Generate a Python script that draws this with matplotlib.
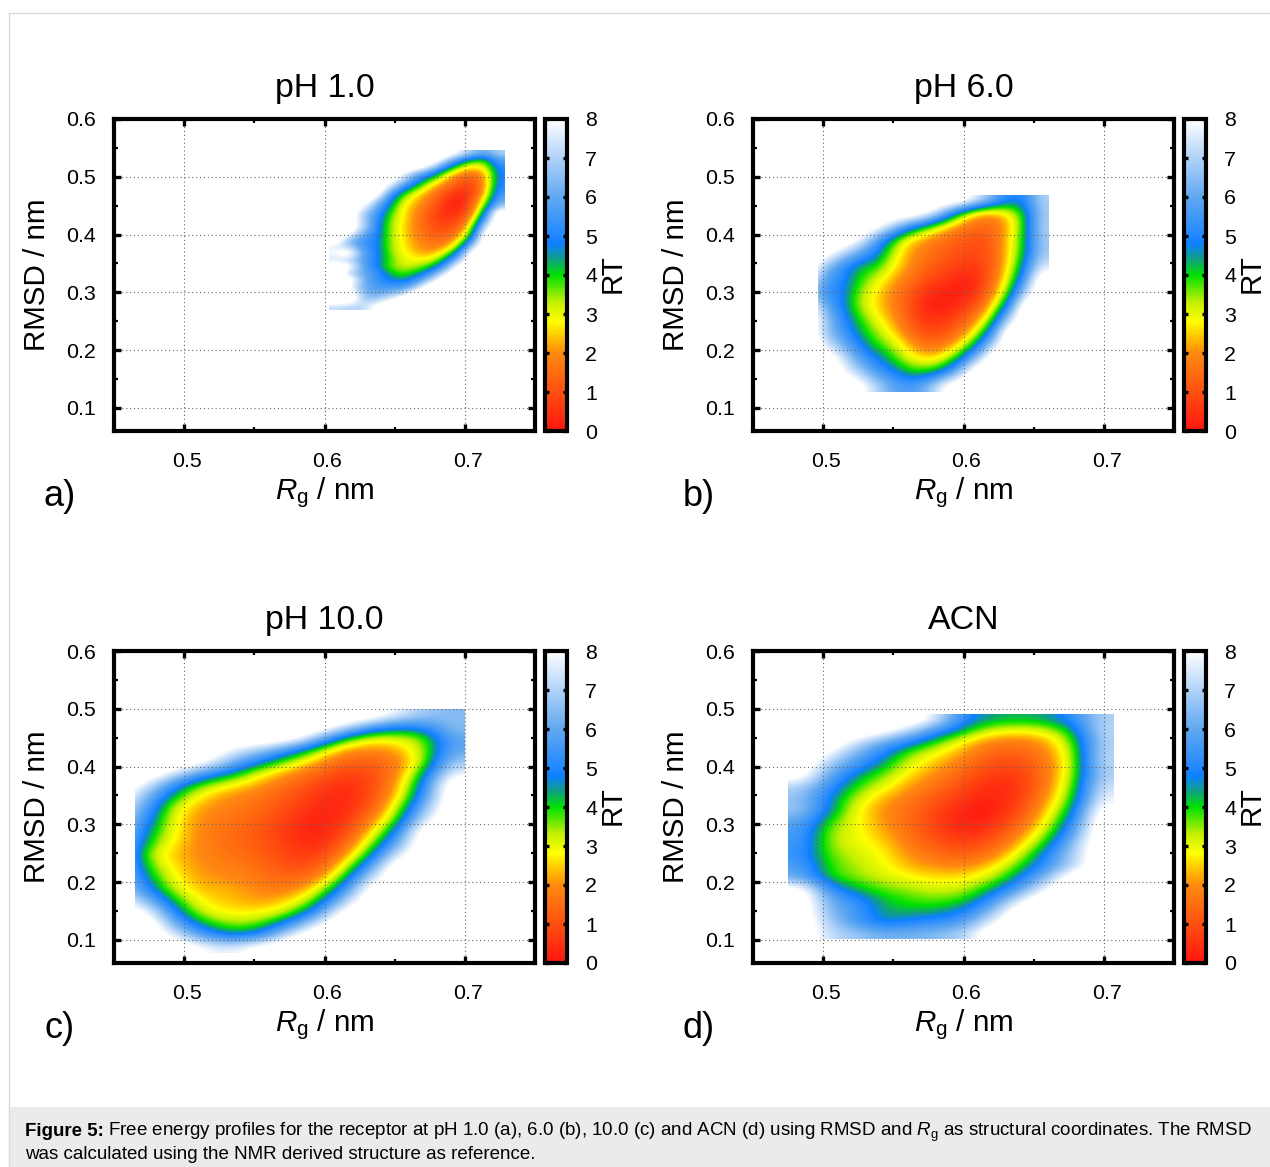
#!/usr/bin/env python3
"""Free energy profiles (RMSD vs Rg) for four solvent conditions."""
import numpy as np
import matplotlib
matplotlib.use('Agg')
import matplotlib.pyplot as plt
from matplotlib.colors import LinearSegmentedColormap, Normalize
from matplotlib.patches import Rectangle
from matplotlib.lines import Line2D
from matplotlib.transforms import ScaledTranslation

W = 9  # empty bins, drawn white

# rows run from top (high RMSD) to bottom
# panel a) pH 1.0
extent_a = (0.603, 0.7283, 0.27, 0.546)
grid_a = [
    [W, W, W, W, W, W, W, W, W, 8, 6.8, 6.0, 7],
    [W, W, W, W, W, W, W, W, 7.5, 5.5, 4.2, 3.8, 5.8],
    [W, W, W, W, W, W, W, 7.5, 5.5, 3.8, 2.6, 3, 5.2],
    [W, W, W, W, W, 8, 6.3, 5.3, 3.6, 2.2, 1.6, 2.2, 5],
    [W, W, W, W, 8.5, 7, 5.2, 3.8, 2.5, 1.3, 1.0, 2.0, 5],
    [W, W, W, W, 7.5, 5.5, 4.0, 2.6, 1.7, .9, .7, 2.0, 5.2],
    [W, W, W, W, 5.8, 4.0, 2.8, 2.0, 1, .4, .6, 2.3, 5.6],
    [W, W, W, 7.2, 5, 3.2, 2.4, 1.6, .7, .1, .9, 3, 6],
    [W, W, 8, 6.2, 4.4, 2.8, 2.1, 1.3, .5, .1, 1.1, 3.8, 7],
    [W, W, 7, 5.6, 3.9, 2.7, 1.9, 1.1, .4, .4, 1.5, 4.8, W],
    [W, W, 7, 5.3, 3.6, 2.7, 1.8, 1, .6, .8, 2.2, 6, W],
    [W, W, 7.2, 5.2, 3.5, 2.6, 1.8, 1.1, .8, 1.2, 3, 7.5, W],
    [W, 8.5, 6.2, 5.1, 3.5, 2.6, 1.9, 1.3, 1.1, 1.7, 3.8, 8.5, W],
    [W, 6.3, 5.5, 5, 3.5, 2.7, 2, 1.5, 1.5, 2.4, 5, W, W],
    [7.5, 7, 5.5, 5, 3.5, 2.7, 2.1, 1.8, 2, 3.4, 7, W, W],
    [8, W, 5.8, 5, 3.6, 2.9, 2.4, 2.2, 3, 5, 8.5, W, W],
    [7.3, 7, 5.8, 5, 3.8, 3, 2.8, 3, 4.2, 6.5, W, W, W],
    [W, 8.6, 6, 4.8, 3.6, 3.2, 3.4, 4, 5.6, 8.5, W, W, W],
    [W, 7, 6, 5.6, 4.2, 3.7, 4.2, 5.4, 7.5, W, W, W, W],
    [W, W, 6.4, 5.2, 4.8, 4.4, 5.4, 7, W, W, W, W, W],
    [W, 8, 6.2, 5.6, 5.5, 5.5, 6.8, W, W, W, W, W, W],
    [W, W, 6.4, 6, 6.4, 7, W, W, W, W, W, W, W],
    [W, W, 7, 6.8, 8, W, W, W, W, W, W, W, W],
    [7.2, 7, 7, 8.5, W, W, W, W, W, W, W, W, W],
]

# panel b) pH 6.0, first column lies just outside the sampled range
extent_b = (0.4847, 0.6607, 0.127, 0.469)
grid_b = [
    [W, W, W, W, W, W, W, W, W, W, 8, 6.5, 5, 5, 7],
    [W, W, W, W, W, W, W, 8.5, 6.5, 4.0, 2.2, 1.8, 2.6, 4, 6.8],
    [W, W, W, W, 8.5, 7, 5.2, 3.8, 2.7, 1.8, 1.4, 1.4, 2.2, 4, 7],
    [W, W, W, 8, 5.8, 4, 2.5, 2, 1.5, 1.2, 1.0, 1.1, 2.5, 4.1, 6.8],
    [W, 8.5, 7.2, 5.8, 5, 3.3, 2.2, 1.7, 1.3, 1.0, .9, 1.1, 2.5, 4.2, 6.8],
    [W, 6.5, 5.2, 4.2, 4, 2.9, 2, 1.4, 1, .7, .6, 1.1, 2.6, 4.8, 7.5],
    [8, 5.6, 5, 4, 3.1, 2.3, 1.6, 1, .6, .3, .2, 1.3, 3, 5.5, W],
    [7, 5.2, 5, 3.5, 2.7, 1.9, 1.2, .5, .2, .1, .4, 1.7, 3.6, 7, W],
    [8.5, 6, 4.8, 3.4, 2.6, 1.9, 1.1, .2, .1, .4, 1, 2.4, 5, W, W],
    [W, 6.8, 5.2, 4, 3, 2.2, 1.2, .5, .5, .9, 1.8, 3.5, 7, W, W],
    [W, 6.6, 5.5, 4.4, 3.5, 2.7, 1.6, .9, 1, 1.5, 2.8, 5.2, W, W, W],
    [W, 7.6, 6.3, 5, 4, 3.4, 2.4, 1.6, 1.7, 2.6, 4.4, 7, W, W, W],
    [W, W, 7.6, 5.8, 5, 4, 3.1, 2.6, 2.9, 4.3, 6.5, W, W, W, W],
    [W, W, 8, 7, 5.6, 5, 4.1, 4, 4.6, 6.5, W, W, W, W, W],
    [W, W, W, 8.5, 7.2, 6, 5.6, 6.2, 8, W, W, W, W, W, W],
]

# panel c) pH 10.0, first column lies just outside the sampled range
extent_c = (0.4456, 0.70, 0.078, 0.50)
grid_c = [
    [W, W, W, W, W, W, W, W, W, W, 7.8, 6.8, 6.4],
    [W, W, W, W, W, W, W, W, 8, 6, 5, 5.2, 6.6],
    [W, W, W, W, W, W, W, 7.2, 4.4, 3, 3, 3.5, 6],
    [W, W, W, W, 7.8, 7, 5.6, 3.8, 2.2, 1.9, 2.2, 3.3, 6],
    [W, W, W, 8.5, 6.5, 5, 3.6, 2.4, 1.4, 1.3, 1.6, 3.3, 6.8],
    [W, W, 7.6, 5.6, 4.6, 3, 2.2, 1.4, .8, .8, 1.7, 4.2, 7.8],
    [W, 7.5, 5, 3.6, 2.8, 2.2, 1.5, .9, .4, .7, 2.0, 5, W],
    [8.5, 6.2, 4, 2.5, 2.0, 1.7, 1.2, .6, .2, .8, 2.3, 5.5, W],
    [8, 5.5, 2.9, 2.1, 1.8, 1.5, .9, .4, .2, 1.0, 3, 6.5, W],
    [7.5, 5, 2.7, 1.9, 1.6, 1.3, .7, .2, .3, 1.6, 3.6, 7.5, W],
    [7, 4.4, 2.7, 1.8, 1.5, 1.1, .6, .1, .6, 2.2, 4.8, W, W],
    [7, 3.9, 2.6, 1.8, 1.5, 1.2, .7, .2, 1.0, 3, 6, W, W],
    [6.8, 3.2, 2.3, 1.9, 1.6, 1.3, .8, .5, 1.6, 4, 7.5, W, W],
    [6.8, 3.7, 2.5, 2.0, 1.8, 1.5, 1.0, .9, 2.5, 5.5, W, W, W],
    [7, 4.3, 2.7, 2.1, 2.0, 1.7, 1.3, 1.6, 3.5, 7.2, W, W, W],
    [7.2, 5.0, 3, 2.3, 2.3, 1.9, 1.7, 2.5, 5, 8.5, W, W, W],
    [8, 6.4, 3.9, 2.6, 2.4, 2.1, 2.4, 3.6, 6.5, W, W, W, W],
    [W, 8, 4.8, 3, 2.7, 2.7, 3.2, 5, 8.5, W, W, W, W],
    [W, W, 6, 4.2, 3.4, 3.6, 5, 7.5, W, W, W, W, W],
    [W, W, 7.5, 5.6, 4.6, 5, 7.5, W, W, W, W, W, W],
    [W, W, W, 8, 7.6, 8.6, W, W, W, W, W, W, W],
]

# panel d) ACN
extent_d = (0.475, 0.707, 0.102, 0.491)
grid_d = [
    [W, W, W, W, W, 7.5, 5, 4.4, 4.3, 4.4, 5.2, 7],
    [W, W, W, 8.5, 7, 5.3, 4.2, 3, 2.8, 3, 4.2, 7.2],
    [W, W, 7.5, 6, 5, 3.8, 2.6, 1.8, 1.7, 2.1, 3.6, 7],
    [W, 8, 6.2, 5, 3.5, 2.8, 2.1, 1.3, 1.2, 1.8, 3.3, 7.2],
    [W, 6.8, 5.5, 4.3, 3, 2.3, 1.6, .9, .9, 1.6, 3.2, 7.2],
    [8.5, 6, 4.4, 3.6, 2.5, 1.9, 1.2, .6, .6, 1.6, 3.4, 7],
    [7, 5.3, 3.9, 3, 2.1, 1.5, .8, .3, .5, 1.7, 3.6, 7.5],
    [6.6, 4.8, 3.3, 2.3, 1.7, 1.1, .5, .2, .6, 2, 3.9, 7.8],
    [6.8, 4.7, 2.9, 2, 1.5, .8, .2, .1, .8, 2.4, 4.4, 8.5],
    [6, 3.9, 2.9, 2.1, 1.4, .7, .1, .3, 1.2, 2.8, 5, W],
    [5.6, 3.5, 2.9, 2.3, 1.5, .8, .3, .7, 1.7, 3.3, 5.8, W],
    [5.6, 3.4, 3, 2.6, 1.7, 1.1, .7, 1.1, 2.3, 4, 6.6, W],
    [5.3, 3.7, 3.2, 2.8, 2.0, 1.5, 1.2, 1.7, 3, 5, 7, W],
    [5.8, 3.8, 3.4, 2.9, 2.3, 2, 1.9, 2.5, 3.8, 5.4, 7, W],
    [6, 4, 3.5, 3.2, 2.8, 2.6, 2.6, 3.2, 4.6, 6.4, W, W],
    [8.5, 5.2, 4.2, 3.6, 3.4, 3.1, 3.2, 4.2, 5.6, 8, W, W],
    [W, 6.1, 5.2, 4.2, 3.8, 3.6, 3.9, 5.2, 7.5, W, W, W],
    [W, 6.4, 5.6, 4.3, 4.2, 4.3, 4.8, 6.4, W, W, W, W],
    [W, 6.9, 5.5, 4.5, 5, 5.2, 5.7, 7.8, W, W, W, W],
    [W, 7.2, 6.8, 6.2, 6.3, 6.5, 7, W, W, W, W, W],
]

titles = ['pH 1.0', 'pH 6.0', 'pH 10.0', 'ACN']
letters = ['a)', 'b)', 'c)', 'd)']
grids = [grid_a, grid_b, grid_c, grid_d]
extents = [extent_a, extent_b, extent_c, extent_d]
sampled_from = [0.603, 0.4964, 0.465, 0.475]  # lowest Rg sampled in each panel
x_ticks = [0.5, 0.6, 0.7]
y_ticks = [0.1, 0.2, 0.3, 0.4, 0.5, 0.6]
cbar_ticks = [0, 1, 2, 3, 4, 5, 6, 7, 8]

# colour scale stops, energy in RT
stop_values = [0, 1, 2, 2.35, 2.8, 3.3, 4, 4.4, 4.8, 5, 6, 7, 8]
stop_colors = ['#ff1510', '#ff5010', '#ff8a10', '#ffbb00', '#ffff00', '#c4f000', '#00e000',
               '#10a080', '#0c80ff', '#2088ff', '#60a8f0', '#b0d2f8', '#ffffff']

plt.rcParams['font.family'] = ['Liberation Sans', 'DejaVu Sans']
plt.rcParams['mathtext.fontset'] = 'custom'
plt.rcParams['mathtext.rm'] = 'Liberation Sans'
plt.rcParams['mathtext.it'] = 'Liberation Sans:italic'
plt.rcParams['mathtext.bf'] = 'Liberation Sans:bold'

FW, FH = 1270, 1167
cmap = LinearSegmentedColormap.from_list('fes', [(v / 8, c) for v, c in zip(stop_values, stop_colors)], N=512)
cmap.set_over('white')
norm = Normalize(0, 8)


def px_axes(fig, left, top, right, bottom):
    return fig.add_axes([left / FW, 1 - bottom / FH, (right - left) / FW, (bottom - top) / FH])


fig = plt.figure(figsize=(FW / 100, FH / 100), dpi=100)

# page frame and caption band
fig.add_artist(Line2D([9 / FW, 9 / FW], [0, 1 - 13 / FH], color='#d8d8d8', lw=1))
fig.add_artist(Line2D([9 / FW, 1], [1 - 13 / FH, 1 - 13 / FH], color='#d8d8d8', lw=1))
fig.add_artist(Rectangle((10 / FW, 0), 1 - 10 / FW, 60 / FH, transform=fig.transFigure, color='#ebebeb', lw=0))

origins = [(114, 119), (753, 119), (114, 651), (753, 651)]
for title, letter, grid, extent, x_min, (x0, y0) in zip(titles, letters, grids, extents, sampled_from, origins):
    ax = px_axes(fig, x0, y0, x0 + 421, y0 + 312)
    data = np.array(grid, dtype=float)
    im = ax.imshow(data, extent=extent, origin='upper', aspect='auto', cmap=cmap, norm=norm,
                   interpolation='bicubic', interpolation_stage='data')
    ax.set_xlim(0.45, 0.75)
    ax.set_ylim(0.06, 0.6)
    im.set_clip_path(Rectangle((x_min, extent[2]), extent[1] - x_min, extent[3] - extent[2], transform=ax.transData))
    ax.set_xticks(x_ticks)
    ax.set_yticks(y_ticks)
    ax.set_xticks([0.55, 0.65], minor=True)
    ax.set_yticks([0.15, 0.25, 0.35, 0.45, 0.55], minor=True)
    ax.set_yticklabels(['%.1f' % t for t in y_ticks])
    ax.set_xticklabels(['%.1f' % t for t in x_ticks])
    ax.grid(True, which='major', color='#666666', ls=(0, (1, 2.5)), lw=0.8)
    ax.set_axisbelow(False)
    ax.tick_params(which='major', direction='in', top=True, right=True, length=5, width=2.4,
                   labelsize=15.4, pad=15)
    ax.tick_params(axis='y', which='major', pad=13)
    ax.tick_params(which='minor', direction='in', top=True, right=True, length=3, width=1.6)
    for lab in ax.get_xticklabels():
        lab.set_transform(lab.get_transform() + ScaledTranslation(3 / 100, 0, fig.dpi_scale_trans))
    for s in ax.spines.values():
        s.set_linewidth(3.0)
        s.set_zorder(5)
    ax.set_title(title, fontsize=24.4, pad=16)
    fig.text((x0 - 77) / FW, 1 - (y0 + 156) / FH, 'RMSD / nm', rotation=90, fontsize=21.3, ha='center', va='center')
    fig.text((x0 + 211) / FW, 1 - (y0 + 374) / FH, r'$\mathit{R}_{\mathrm{g}}$ / nm', fontsize=21.3,
             ha='center', va='center')
    fig.text((x0 - 54) / FW, 1 - (y0 + 378) / FH, letter, fontsize=26, ha='center', va='center')

    # colour bar with its own inward ticks
    cax = px_axes(fig, x0 + 431, y0, x0 + 453, y0 + 312)
    cb = fig.colorbar(im, cax=cax, ticks=cbar_ticks)
    cb.outline.set_linewidth(3.0)
    cb.ax.tick_params(direction='in', left=True, right=True, length=3, width=2.4, labelsize=15.4, pad=13)
    fig.text((x0 + 499) / FW, 1 - (y0 + 155) / FH, 'RT', rotation=90, fontsize=21.3, ha='center', va='center')

cap_head = 'Figure 5:'
cap1 = (r'Free energy profiles for the receptor at pH 1.0 (a), 6.0 (b), 10.0 (c) and ACN (d) '
        r'using RMSD and $\mathit{R}_{\mathrm{g}}$ as structural coordinates. The RMSD')
cap2 = 'was calculated using the NMR derived structure as reference.'
fig.text(25 / FW, 1 - 1136 / FH, cap_head, fontsize=13.48, fontweight='bold', ha='left', va='baseline')
fig.text(108 / FW, 1 - 1136 / FH, cap1, fontsize=13.48, ha='left', va='baseline')
fig.text(25 / FW, 1 - 1159 / FH, cap2, fontsize=13.48, ha='left', va='baseline')

fig.savefig('out.png', dpi=100)
